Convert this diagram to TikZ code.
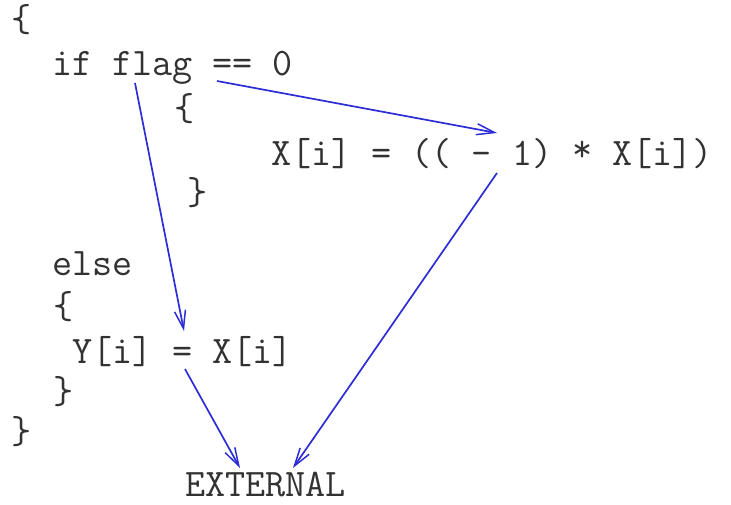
\documentclass[tikz,border=0pt]{standalone}
\usepackage{fontspec}
\usetikzlibrary{arrows.meta}
\definecolor{arrowblue}{RGB}{45,45,215}
\definecolor{codegray}{RGB}{50,50,50}
\tikzset{
  code/.style={anchor=base west, inner sep=0pt, outer sep=0pt, text=codegray,
    font=\ttfamily\fontsize{39}{44}\selectfont},
  flow/.style={draw=arrowblue, line width=1.7pt,
    -{Straight Barb[length=18pt,width=11pt,line width=1.5pt]}}
}
\begin{document}
\begin{tikzpicture}[x=1pt,y=-1pt]
\useasboundingbox (0,0) rectangle (731,504);
\node[code] (b1) at (12,31) {\{};
\node[code] (ifl) at (52,75) {if flag == 0};
\node[code] (b2) at (174,120) {\{};
\node[code] (xl) at (271,165) {X[i] = (( - 1) \raisebox{0.2ex}{*} X[i])};
\node[code] (b3) at (187,204) {\}};
\node[code] (el) at (52,275) {else};
\node[code] (b4) at (53,318) {\{};
\node[code] (yl) at (72,363) {Y[i] = X[i]};
\node[code] (b5) at (53,403) {\}};
\node[code] (b6) at (12,443) {\}};
\node[code] (ext) at (185,496) {EXTERNAL};
% connector ends
\coordinate (flagout) at (135,83);
\coordinate (eqout) at (217,81);
\coordinate (xin) at (497,133);
\coordinate (xout) at (497,173);
\coordinate (yin) at (184,331);
\coordinate (yout) at (185,369);
\coordinate (extl) at (240,468);
\coordinate (extr) at (293,468);
\draw[flow] (flagout) -- (yin);
\draw[flow] (eqout) -- (xin);
\draw[flow] (xout) -- (extr);
\draw[flow] (yout) -- (extl);
\end{tikzpicture}
\end{document}
